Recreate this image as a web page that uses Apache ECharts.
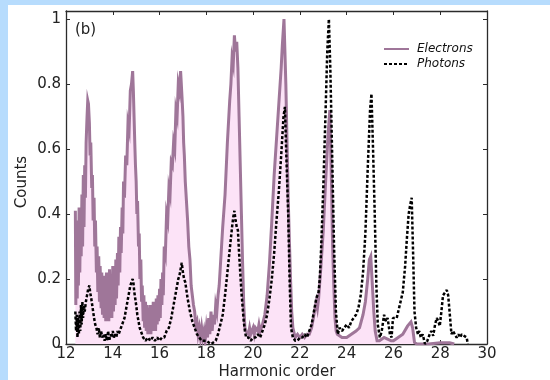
<!DOCTYPE html>
<html>
<head>
<meta charset="utf-8">
<script src="https://cdn.jsdelivr.net/npm/echarts@6/dist/echarts.min.js"></script>
<style>
html,body{margin:0;padding:0;width:550px;height:380px;background:#b7dcfd;overflow:hidden;}
#c{position:absolute;left:8px;top:5px;width:542px;height:375px;background:#ffffff;}
#topstrip{position:absolute;left:0;top:0;width:550px;height:5px;background:#b7dcfd;z-index:10;}
</style>
</head>
<body>
<div id="c"></div>
<div id="topstrip"></div>
<script>
// ---- data ----
var seriesNames = ['Electrons', 'Photons'];
var xTicks = [12, 14, 16, 18, 20, 22, 24, 26, 28, 30];
var yTicks = [0, 0.2, 0.4, 0.6, 0.8, 1];

var electronHarmonic = [
12.40,12.42,12.45,12.48,12.50,12.53,12.56,12.59,12.62,12.65,12.68,12.71,12.74,12.77,12.80,12.83,12.86,12.90,12.93,12.96,
13.00,13.03,13.06,13.10,13.13,13.16,13.20,13.23,13.26,13.30,13.33,13.36,13.40,13.43,13.46,13.50,13.53,13.56,13.60,13.63,
13.66,13.70,13.73,13.76,13.80,13.83,13.86,13.90,13.93,13.96,14.00,14.03,14.06,14.10,14.13,14.16,14.20,14.23,14.26,14.30,
14.33,14.36,14.40,14.43,14.46,14.50,14.55,14.60,14.65,14.70,14.75,14.80,14.85,14.88,14.91,14.94,14.97,15.00,15.03,15.06,
15.10,15.13,15.16,15.20,15.23,15.26,15.30,15.33,15.36,15.40,15.43,15.46,15.50,15.53,15.56,15.60,15.63,15.66,15.70,15.73,
15.76,15.80,15.83,15.86,15.90,15.93,15.96,16.00,16.03,16.06,16.10,16.13,16.16,16.20,16.25,16.30,16.35,16.40,16.45,16.50,
16.55,16.60,16.65,16.70,16.75,16.80,16.85,16.90,16.93,16.96,17.00,17.03,17.06,17.10,17.15,17.20,17.25,17.30,17.35,17.40,
17.45,17.50,17.55,17.60,17.65,17.70,17.75,17.80,17.85,17.90,17.95,18.00,18.05,18.10,18.15,18.20,18.25,18.30,18.35,18.40,
18.45,18.50,18.55,18.60,18.70,18.80,18.90,19.00,19.05,19.10,19.15,19.20,19.25,19.30,19.35,19.40,19.45,19.50,19.55,19.60,
19.65,19.70,19.80,19.85,19.90,20.00,20.05,20.10,20.20,20.25,20.30,20.40,20.50,20.60,20.70,20.80,20.90,21.00,21.10,21.20,
21.25,21.32,21.40,21.45,21.50,21.55,21.60,21.65,21.70,21.80,21.90,22.00,22.10,22.20,22.30,22.40,22.50,22.60,22.70,22.75,
22.80,22.90,23.00,23.10,23.20,23.28,23.35,23.40,23.45,23.50,23.55,23.60,23.80,24.00,24.20,24.40,24.55,24.70,24.80,24.90,
24.97,25.03,25.10,25.16,25.22,25.30,25.40,25.60,25.75,25.90,26.00,26.20,26.40,26.60,26.75,26.82,26.90,27.00,27.50,28.00,
28.40,28.60
];
var electronCounts = [
0.41,0.12,0.38,0.14,0.36,0.18,0.42,0.22,0.40,0.27,0.46,0.30,0.52,0.36,0.55,0.45,0.62,0.70,0.75,0.74,
0.68,0.58,0.62,0.48,0.52,0.38,0.45,0.30,0.38,0.22,0.30,0.16,0.27,0.13,0.24,0.11,0.22,0.09,0.21,0.08,
0.20,0.07,0.22,0.09,0.20,0.07,0.23,0.09,0.21,0.08,0.24,0.10,0.22,0.12,0.26,0.14,0.28,0.18,0.33,0.22,
0.36,0.28,0.42,0.34,0.50,0.45,0.58,0.55,0.68,0.66,0.78,0.80,0.84,0.78,0.70,0.62,0.55,0.50,0.40,0.44,
0.30,0.34,0.20,0.26,0.13,0.18,0.07,0.15,0.05,0.13,0.04,0.12,0.03,0.11,0.04,0.12,0.03,0.10,0.04,0.13,
0.05,0.12,0.04,0.14,0.06,0.15,0.07,0.17,0.08,0.20,0.12,0.22,0.15,0.30,0.28,0.40,0.38,0.48,0.46,0.56,
0.55,0.62,0.60,0.72,0.70,0.80,0.78,0.84,0.80,0.76,0.70,0.62,0.58,0.50,0.44,0.38,0.30,0.26,0.18,0.15,
0.12,0.10,0.06,0.07,0.03,0.05,0.02,0.05,0.02,0.04,0.01,0.05,0.02,0.08,0.03,0.10,0.04,0.09,0.06,0.12,
0.10,0.15,0.18,0.24,0.36,0.46,0.62,0.75,0.80,0.88,0.86,0.95,0.90,0.93,0.85,0.70,0.55,0.40,0.25,0.12,
0.05,0.04,0.03,0.05,0.03,0.05,0.03,0.05,0.04,0.06,0.04,0.06,0.09,0.15,0.25,0.38,0.52,0.63,0.74,0.85,
0.92,1.00,0.80,0.62,0.45,0.32,0.20,0.10,0.05,0.02,0.03,0.02,0.03,0.02,0.03,0.03,0.05,0.09,0.13,0.11,
0.14,0.24,0.35,0.50,0.64,0.72,0.50,0.30,0.18,0.08,0.04,0.03,0.02,0.02,0.03,0.04,0.05,0.09,0.13,0.20,
0.26,0.27,0.18,0.10,0.04,0.01,0.01,0.02,0.015,0.01,0.01,0.02,0.03,0.055,0.068,0.05,0.005,0,0,0.004,
0.004,0
];

var photonHarmonic = [
12.40,12.43,12.46,12.49,12.52,12.55,12.58,12.61,12.64,12.67,12.70,12.73,12.76,12.80,12.85,12.90,12.95,13.00,13.03,13.08,
13.12,13.16,13.20,13.25,13.30,13.35,13.40,13.45,13.50,13.55,13.60,13.65,13.70,13.75,13.80,13.85,13.90,13.95,14.00,14.05,
14.10,14.15,14.20,14.25,14.30,14.35,14.40,14.45,14.50,14.55,14.60,14.65,14.70,14.75,14.80,14.85,14.88,14.92,14.96,15.00,
15.05,15.10,15.15,15.20,15.30,15.40,15.50,15.60,15.70,15.80,15.90,16.00,16.10,16.20,16.30,16.40,16.50,16.60,16.70,16.80,
16.85,16.90,16.95,17.00,17.05,17.10,17.20,17.30,17.40,17.50,17.60,17.70,17.80,18.00,18.20,18.40,18.50,18.60,18.70,18.80,
18.90,19.00,19.10,19.15,19.20,19.25,19.30,19.35,19.40,19.50,19.60,19.65,19.70,19.80,19.90,20.00,20.10,20.20,20.30,20.40,
20.50,20.60,20.70,20.80,20.90,21.00,21.10,21.20,21.30,21.36,21.42,21.50,21.56,21.62,21.70,21.80,21.90,22.00,22.10,22.20,
22.30,22.40,22.50,22.60,22.70,22.80,22.85,22.90,23.00,23.10,23.17,23.24,23.30,23.38,23.46,23.54,23.62,23.70,23.80,23.90,
24.00,24.10,24.20,24.30,24.40,24.50,24.60,24.70,24.80,24.90,25.00,25.06,25.12,25.20,25.27,25.33,25.42,25.50,25.60,25.68,
25.75,25.85,25.92,25.98,26.05,26.14,26.27,26.40,26.50,26.57,26.65,26.72,26.78,26.84,26.90,26.97,27.05,27.10,27.17,27.25,
27.35,27.45,27.55,27.62,27.70,27.78,27.85,27.92,27.98,28.05,28.12,28.20,28.28,28.34,28.40,28.48,28.55,28.62,28.70,28.78,
28.85,28.92,29.00,29.13,29.18
];
var photonCounts = [
0.10,0.04,0.09,0.02,0.08,0.03,0.10,0.04,0.12,0.06,0.13,0.08,0.12,0.10,0.13,0.15,0.17,0.18,0.16,0.14,
0.12,0.10,0.08,0.06,0.05,0.03,0.05,0.02,0.04,0.02,0.03,0.01,0.03,0.01,0.04,0.01,0.03,0.02,0.04,0.02,
0.03,0.02,0.04,0.03,0.04,0.05,0.05,0.07,0.08,0.10,0.12,0.14,0.16,0.18,0.19,0.20,0.19,0.16,0.14,0.12,
0.09,0.07,0.05,0.04,0.02,0.01,0.02,0.01,0.02,0.01,0.02,0.01,0.02,0.02,0.04,0.05,0.08,0.12,0.16,0.20,
0.21,0.23,0.25,0.22,0.20,0.19,0.14,0.10,0.07,0.05,0.03,0.02,0.01,0.01,0.00,0.01,0.03,0.06,0.09,0.15,
0.22,0.29,0.36,0.39,0.41,0.38,0.36,0.35,0.28,0.16,0.07,0.04,0.02,0.02,0.01,0.02,0.02,0.03,0.02,0.04,
0.06,0.09,0.14,0.20,0.28,0.38,0.47,0.58,0.70,0.73,0.58,0.40,0.20,0.05,0.02,0.01,0.01,0.02,0.02,0.03,
0.02,0.04,0.06,0.10,0.14,0.16,0.20,0.28,0.48,0.72,0.90,1.00,0.85,0.58,0.30,0.10,0.03,0.05,0.04,0.05,
0.06,0.05,0.07,0.08,0.09,0.11,0.15,0.22,0.34,0.54,0.72,0.77,0.62,0.40,0.18,0.06,0.02,0.04,0.09,0.07,
0.08,0.03,0.02,0.08,0.08,0.08,0.12,0.16,0.24,0.32,0.40,0.43,0.45,0.28,0.10,0.05,0.03,0.04,0.02,0.03,
0.00,0.01,0.03,0.04,0.025,0.06,0.08,0.07,0.055,0.10,0.15,0.155,0.166,0.15,0.10,0.03,0.04,0.03,0.02,0.03,
0.02,0.03,0.025,0.02,0.00
];

function pairs(xs, ys) { var out = []; for (var i = 0; i < xs.length; i++) out.push([xs[i], ys[i]]); return out; }

var FONT = 'DejaVu Sans';
var chart = echarts.init(document.getElementById('c'), null, {renderer: 'canvas'});
var axisLineStyle = {color: '#2b2b2b', width: 1.3};
var xCommon = {type: 'value', min: xTicks[0], max: xTicks[xTicks.length - 1], interval: xTicks[1] - xTicks[0],
  splitLine: {show: false}, axisLine: {show: true, onZero: false, lineStyle: axisLineStyle},
  axisTick: {show: true, inside: true, length: 4, lineStyle: {color: '#2b2b2b', width: 1}}};
var yCommon = {type: 'value', min: yTicks[0], max: 1.025, interval: yTicks[1] - yTicks[0],
  splitLine: {show: false}, axisLine: {show: true, onZero: false, lineStyle: axisLineStyle},
  axisTick: {show: true, inside: true, length: 4, lineStyle: {color: '#2b2b2b', width: 1}}};

chart.setOption({
  animation: false,
  textStyle: {fontFamily: FONT},
  grid: {left: 58, right: 63, top: 6, bottom: 36, containLabel: false},
  xAxis: [
    Object.assign({}, xCommon, {position: 'bottom',
      axisLabel: {show: true, color: '#222', fontSize: 15, fontFamily: FONT, margin: 3}}),
    Object.assign({}, xCommon, {position: 'top', axisLabel: {show: false}})
  ],
  yAxis: [
    Object.assign({}, yCommon, {position: 'left',
      axisLabel: {show: true, color: '#222', fontSize: 15, fontFamily: FONT, margin: 5, showMaxLabel: false,
        formatter: function (v) { var r = Math.round(v * 10) / 10; return yTicks.indexOf(r) >= 0 && Math.abs(v - r) < 1e-6 ? String(r) : ''; }}}),
    Object.assign({}, yCommon, {position: 'right', axisLabel: {show: false}})
  ],
  legend: {
    orient: 'vertical', left: 375, top: 38, padding: 0, itemWidth: 25, itemHeight: 12, itemGap: 3,
    itemStyle: {opacity: 0},
    textStyle: {fontFamily: FONT, fontSize: 12, fontStyle: 'italic', fontWeight: 'normal', color: '#111', padding: [0, 0, 0, 3]},
    data: seriesNames
  },
  graphic: [
    {type: 'text', left: 67, top: 18, style: {text: '(b)', font: '15px "DejaVu Sans"', fill: '#222'}},
    {type: 'text', x: 14, y: 177, rotation: Math.PI / 2,
      style: {text: 'Counts', font: '15px "DejaVu Sans"', fill: '#222', align: 'center', verticalAlign: 'middle'}},
    {type: 'text', x: 269, y: 367,
      style: {text: 'Harmonic order', font: '15px "DejaVu Sans"', fill: '#222', align: 'center', verticalAlign: 'middle'}}
  ],
  series: [
    {name: seriesNames[0], type: 'line', data: pairs(electronHarmonic, electronCounts),
      showSymbol: false, symbol: 'none', smooth: false,
      lineStyle: {color: '#9f7699', width: 3, join: 'miter'},
      itemStyle: {color: '#9f7699'},
      areaStyle: {color: '#fce3f7', opacity: 1}, z: 2},
    {name: seriesNames[1], type: 'line', data: pairs(photonHarmonic, photonCounts),
      showSymbol: false, symbol: 'none', smooth: false,
      lineStyle: {color: '#000000', width: 2.5, type: [3, 2]},
      itemStyle: {color: '#000000'}, z: 3}
  ]
});
</script>
</body>
</html>
